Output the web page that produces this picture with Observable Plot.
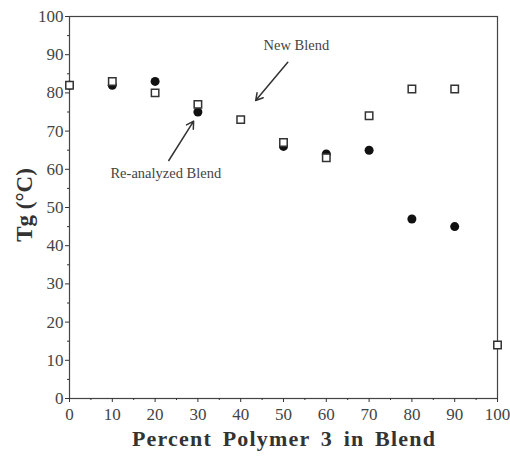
<!DOCTYPE html>
<html><head><meta charset="utf-8">
<script src="https://cdn.jsdelivr.net/npm/d3@7"></script>
<script src="https://cdn.jsdelivr.net/npm/@observablehq/plot@0.6"></script>
<style>body{margin:0;background:#fff}</style>
</head><body><div id="chart"></div>
<script>
const percents = [0,10,20,30,40,50,60,70,80,90,100];
const newBlend = [82,83,80,77,73,67,63,74,81,81,14];
const reanalyzedPct = [0,10,20,30,50,60,70,80,90];
const reanalyzed = [82,82,83,75,66,64,65,47,45];
const majorTicks = [0,10,20,30,40,50,60,70,80,90,100];
const minorTicks = [5,15,25,35,45,55,65,75,85,95];
const labels = ["New Blend","Re-analyzed Blend"];
const labelX = [53,22.5];
const labelY = [92.5,59];
const arrowX1 = [51,23.2];
const arrowY1 = [88,62.3];
const arrowX2 = [43.5,29];
const arrowY2 = [78,72.6];

const sq = percents.map((p,i)=>({p, v:newBlend[i]}));
const ci = reanalyzedPct.map((p,i)=>({p, v:reanalyzed[i]}));
const ann = labels.map((t,i)=>({t, x:labelX[i], y:labelY[i], x1:arrowX1[i], y1:arrowY1[i], x2:arrowX2[i], y2:arrowY2[i]}));

const font = "Liberation Serif, Times New Roman, serif";
const chart = Plot.plot({
  width: 510, height: 457,
  marginLeft: 69, marginRight: 13, marginTop: 16, marginBottom: 59,
  style: {fontFamily: font, background: "#fff"},
  x: {domain: [0,100]},
  y: {domain: [0,100]},
  marks: [
    Plot.frame({stroke: "#444", strokeWidth: 1.2}),
    Plot.axisX(majorTicks, {tickSize: 4, tickPadding: 5, fontSize: 17, fill: "#444", stroke: "#333", label: null}),
    Plot.axisX(minorTicks, {tickSize: 2, text: null, stroke: "#333", label: null}),
    Plot.axisY(majorTicks, {tickSize: 4, tickPadding: 2, fontSize: 17, fill: "#444", stroke: "#333", label: null}),
    Plot.axisY(minorTicks, {tickSize: 2, text: null, stroke: "#333", label: null}),
    Plot.dot(ci, {x: "p", y: "v", r: 4.5, fill: "#111", stroke: "none"}),
    Plot.dot(sq, {x: "p", y: "v", symbol: "square", r: 4.2, fill: "#fff", stroke: "#333", strokeWidth: 1.5}),
    Plot.arrow(ann, {x1: "x1", y1: "y1", x2: "x2", y2: "y2", stroke: "#333", strokeWidth: 1.5, headLength: 8}),
    Plot.text(ann, {x: "x", y: "y", text: "t", fontSize: 14.5, fill: "#444", fontFamily: font})
  ]
});
const div = document.getElementById("chart");
div.appendChild(chart);
const svg = d3.select(chart);
svg.append("text").attr("x", 284).attr("y", 446).attr("text-anchor","middle")
  .attr("font-family", font).attr("font-size", 22).attr("font-weight","bold").attr("fill","#333")
  .attr("letter-spacing", "1.2px").attr("word-spacing", "4px")
  .text("Percent Polymer 3 in Blend");
svg.append("text").attr("transform","translate(32,205) rotate(-90)").attr("text-anchor","middle")
  .attr("font-family", font).attr("font-size", 23).attr("font-weight","bold").attr("fill","#333")
  .text("Tg (°C)");
</script>
</body></html>
